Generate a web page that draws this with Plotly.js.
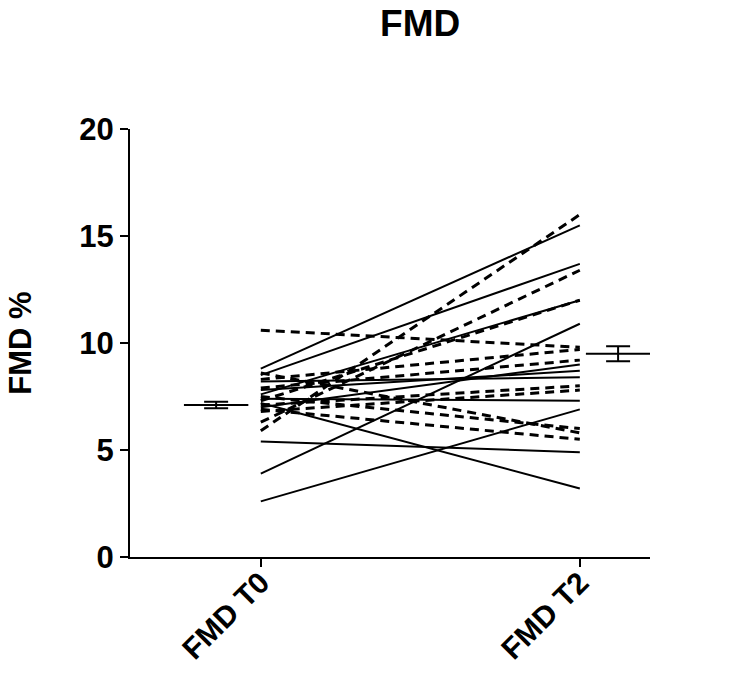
<!DOCTYPE html>
<html>
<head>
<meta charset="utf-8">
<script src="https://cdn.plot.ly/plotly-3.0.1.min.js"></script>
<style>
  html, body { margin: 0; padding: 0; background: #fff; }
  #chart { width: 745px; height: 677px; }
</style>
</head>
<body>
<div id="chart"></div>
<script>
// FMD % per subject, T0 -> T2
const timepoints = ['FMD T0', 'FMD T2'];
const solidT0 = [2.6, 3.9, 5.4, 7.2, 8.8, 8.5, 7.6, 7.0, 7.8, 8.2, 7.4];
const solidT2 = [6.9, 10.9, 4.9, 3.2, 15.5, 13.7, 12.0, 9.0, 8.7, 8.4, 7.3];
const dashedT0 = [10.6, 5.9, 6.3, 7.3, 8.3, 7.9, 7.1, 6.8, 7.5, 8.6, 6.9];
const dashedT2 = [9.8, 16.0, 13.4, 12.0, 9.7, 9.2, 8.0, 7.8, 6.0, 5.8, 5.5];

// group mean +/- SEM, drawn beside each column
const meanPos = [-0.14, 1.12];
const meanVals = [7.1, 9.5];
const semVals = [0.15, 0.35];

const font = 'Liberation Sans, Arial, sans-serif';

function pairTraces(t0, t2, dash, width) {
  return t0.map((v, i) => ({
    type: 'scatter',
    mode: 'lines',
    x: [0, 1],
    y: [v, t2[i]],
    line: { color: '#000', width, dash },
    hoverinfo: 'skip',
  }));
}

const traces = [
  ...pairTraces(solidT0, solidT2, 'solid', 2),
  ...pairTraces(dashedT0, dashedT2, '9px,6px', 3),
  {
    type: 'scatter',
    mode: 'markers',
    x: meanPos,
    y: meanVals,
    marker: { symbol: 'line-ew', size: 46, line: { color: '#000', width: 2 } },
    error_y: { type: 'data', array: semVals, visible: true, color: '#000', thickness: 2, width: 12 },
  },
];

const layout = {
  width: 745,
  height: 677,
  paper_bgcolor: '#fff',
  plot_bgcolor: '#fff',
  showlegend: false,
  margin: { l: 130, r: 95, t: 129, b: 120 },
  font: { family: font, color: '#000' },
  title: {
    text: '<b>FMD</b>',
    font: { family: font, size: 37, color: '#000' },
    x: 0.564, xref: 'container', xanchor: 'center',
    y: 0.966, yref: 'container', yanchor: 'middle',
  },
  xaxis: {
    range: [-0.41, 1.22],
    tickvals: [0, 1],
    ticktext: timepoints.map((t) => `<b>${t}</b>`),
    tickangle: -45,
    tickfont: { family: font, size: 30, color: '#000' },
    ticklabelstandoff: -14,
    ticks: 'outside', ticklen: 8, tickwidth: 2, tickcolor: '#000',
    showline: true, linewidth: 2, linecolor: '#000',
    showgrid: false, zeroline: false,
  },
  yaxis: {
    range: [0, 20],
    tickvals: [0, 5, 10, 15, 20],
    ticktext: ['<b>0</b>', '<b>5</b>', '<b>10</b>', '<b>15</b>', '<b>20</b>'],
    tickfont: { family: font, size: 31, color: '#000' },
    ticks: 'outside', ticklen: 8, tickwidth: 2, tickcolor: '#000',
    showline: true, linewidth: 2, linecolor: '#000',
    showgrid: false, zeroline: false,
    title: { text: '<b>FMD %</b>', font: { family: font, size: 31, color: '#000' }, standoff: 38 },
  },
};

Plotly.newPlot('chart', traces, layout, { displayModeBar: false, staticPlot: true });
</script>
</body>
</html>
